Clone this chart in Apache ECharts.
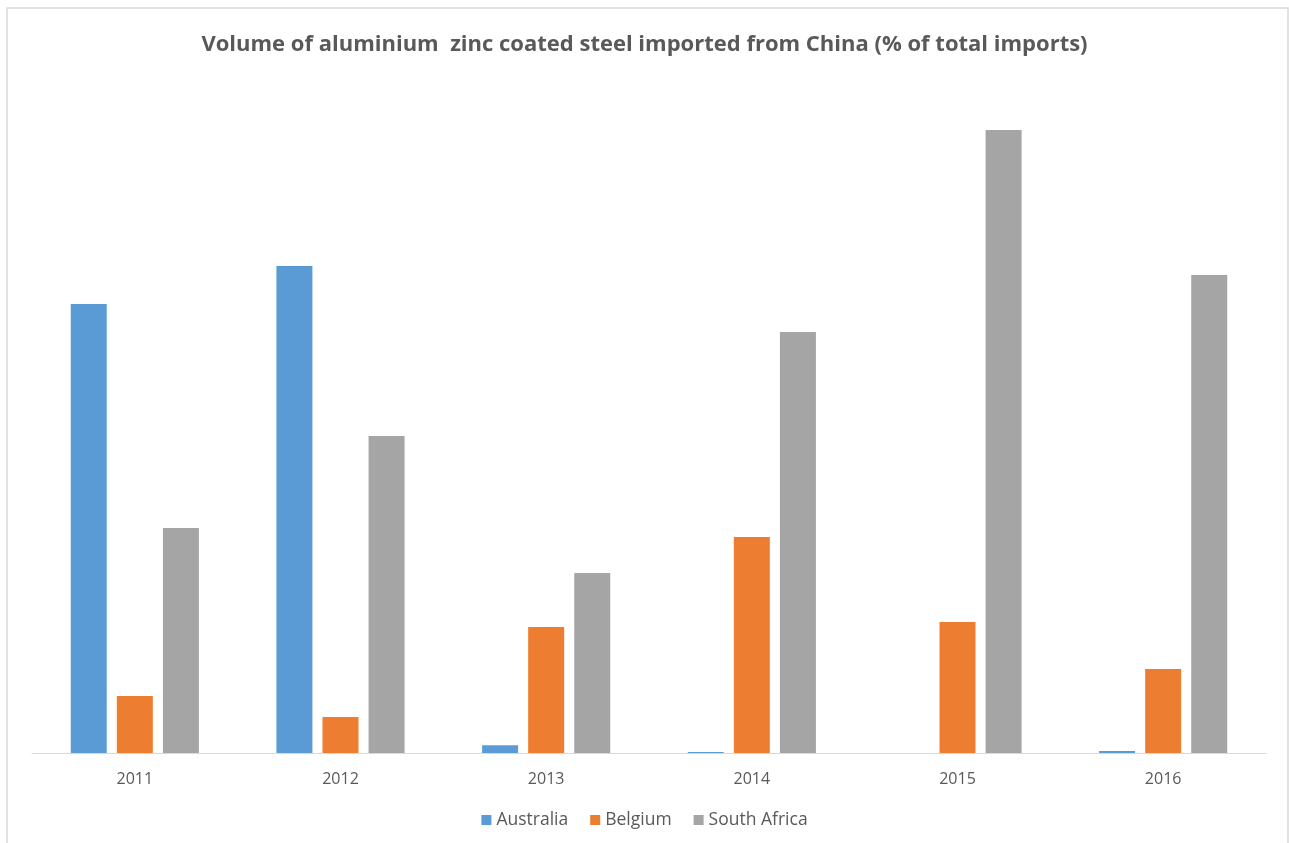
<!DOCTYPE html>
<html><head><meta charset="utf-8">
<script src="https://cdn.jsdelivr.net/npm/echarts@6/dist/echarts.min.js"></script>
<style>html,body{margin:0;padding:0;background:#fff}#c{width:1289px;height:843px}</style>
</head><body><div id="c"></div>
<script>
const categories = ['2011','2012','2013','2014','2015','2016'];
const australia = [44.9, 48.7, 0.77, 0.1, 0, 0.2];
const belgium = [5.7, 3.6, 12.6, 21.6, 13.1, 8.4];
const southAfrica = [22.5, 31.7, 18.0, 42.1, 62.3, 47.8];
const seriesNames = ['Australia','Belgium','South Africa'];

const chart = echarts.init(document.getElementById('c'), null, {renderer:'canvas'});
const font = '"Open Sans", sans-serif';
chart.setOption({
  backgroundColor: '#fff',
  animation: false,
  title: {
    text: 'Volume of aluminium  zinc coated steel imported from China (% of total imports)',
    left: 'center', top: 29,
    textStyle: {fontFamily: font, fontSize: 22, fontWeight: 'bold', color: '#595959'}
  },
  legend: {
    data: seriesNames, bottom: 9, left: 'center',
    icon: 'rect', itemWidth: 10, itemHeight: 10, itemGap: 22,
    textStyle: {fontFamily: font, fontSize: 17.5, color: '#595959'}
  },
  grid: {left: 32, right: 23, top: 103, bottom: 90},
  xAxis: {
    type: 'category', data: categories,
    axisLine: {lineStyle: {color: '#d9d9d9', width: 1}},
    axisTick: {show: false},
    axisLabel: {fontFamily: font, fontSize: 16, color: '#595959', margin: 18}
  },
  yAxis: {
    type: 'value', min: 0, max: 65, show: false,
    splitLine: {show: false}
  },
  series: [
    {name: seriesNames[0], type: 'bar', data: australia, barWidth: 36, barGap: '28%', itemStyle: {color: '#5b9bd5'}},
    {name: seriesNames[1], type: 'bar', data: belgium, barWidth: 36, barGap: '28%', itemStyle: {color: '#ed7d31'}},
    {name: seriesNames[2], type: 'bar', data: southAfrica, barWidth: 36, barGap: '28%', itemStyle: {color: '#a5a5a5'}}
  ],
  graphic: [{
    type: 'rect', shape: {x: 7, y: 8, width: 1281, height: 850},
    style: {fill: 'none', stroke: '#d9d9d9', lineWidth: 1.5}, silent: true
  }]
});
</script></body></html>
